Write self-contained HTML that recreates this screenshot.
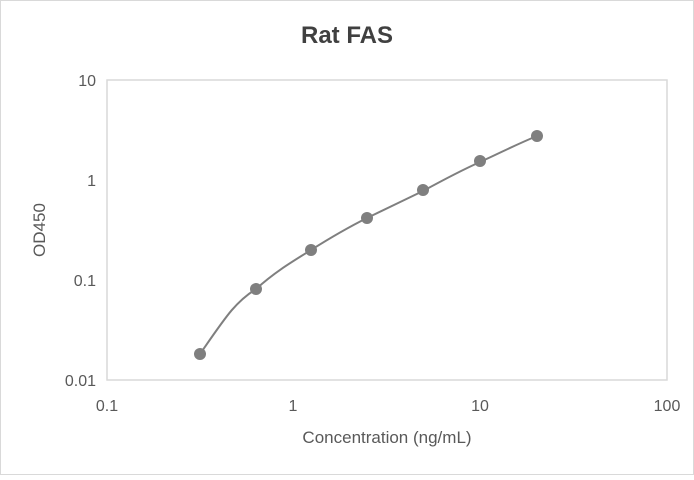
<!DOCTYPE html>
<html><head><style>body{margin:0;background:#fff}</style></head><body>
<svg width="694" height="475" xmlns="http://www.w3.org/2000/svg" font-family="Liberation Sans, Arial, sans-serif">
<rect x="0.5" y="0.5" width="693" height="474" fill="#fff" stroke="#d9d9d9"/>
<text x="347" y="43" text-anchor="middle" font-size="24" font-weight="bold" fill="#404040">Rat FAS</text>
<rect x="107" y="80" width="560" height="300" fill="none" stroke="#d9d9d9" stroke-width="1.5"/>
<g font-size="16" fill="#595959" text-anchor="end">
<text x="96" y="86">10</text><text x="96" y="186">1</text><text x="96" y="286">0.1</text><text x="96" y="386">0.01</text>
</g>
<g font-size="16" fill="#595959" text-anchor="middle">
<text x="107" y="411">0.1</text><text x="293" y="411">1</text><text x="480" y="411">10</text><text x="667" y="411">100</text>
</g>
<text x="387" y="443" text-anchor="middle" font-size="17" fill="#595959">Concentration (ng/mL)</text>
<text transform="translate(45,230) rotate(-90)" text-anchor="middle" font-size="17" fill="#595959">OD450</text>
<path d="M200,354 C225,318 235,302 256,289 C275,272 290,263 311,250 C330,238 345,229 367,218 C390,207 400,202 423,191 C445,179 460,171 480,162 C500,153 515,145 537,136" fill="none" stroke="#7f7f7f" stroke-width="2"/>
<g fill="#7f7f7f">
<circle cx="200" cy="354" r="6"/><circle cx="256" cy="289" r="6"/><circle cx="311" cy="250" r="6"/><circle cx="367" cy="218" r="6"/><circle cx="423" cy="190" r="6"/><circle cx="480" cy="161" r="6"/><circle cx="537" cy="136" r="6"/>
</g>
</svg>
</body></html>
